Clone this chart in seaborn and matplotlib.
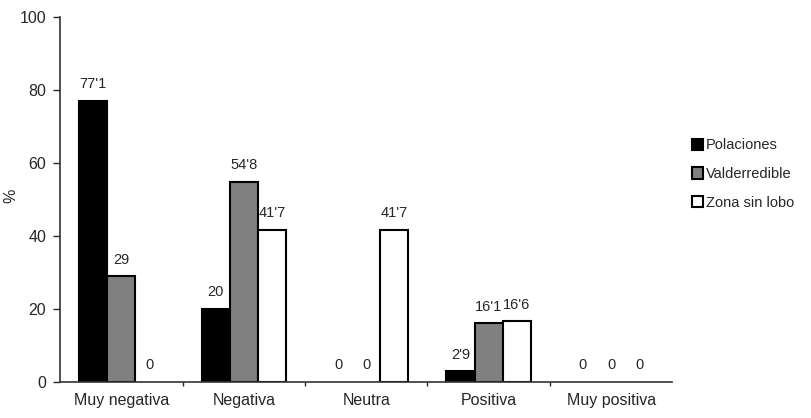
import matplotlib
matplotlib.use("Agg")
import matplotlib.pyplot as plt
import seaborn as sns
import pandas as pd
from matplotlib.ticker import FixedLocator

categories = ["Muy negativa", "Negativa", "Neutra", "Positiva", "Muy positiva"]
polaciones = [77.1, 20.0, 0.0, 2.9, 0.0]
valderredible = [29.0, 54.8, 0.0, 16.1, 0.0]
zona_sin_lobo = [0.0, 41.7, 41.7, 16.6, 0.0]
series_names = ["Polaciones", "Valderredible", "Zona sin lobo"]
series_colors = ["#000000", "#808080", "#ffffff"]

rows = []
for name, vals in zip(series_names, [polaciones, valderredible, zona_sin_lobo]):
    for cat, v in zip(categories, vals):
        rows.append({"categoria": cat, "serie": name, "valor": v})
df = pd.DataFrame(rows)

sns.set_style("white")
plt.rcParams["font.family"] = ["Liberation Sans", "DejaVu Sans"]

fig = plt.figure(figsize=(8.12, 4.18), dpi=100)
ax = fig.add_axes([0.074, 0.086, 0.754, 0.873])

sns.barplot(data=df, x="categoria", y="valor", hue="serie", order=categories,
            hue_order=series_names, palette=series_colors, width=0.69,
            edgecolor="black", linewidth=1.5, errorbar=None, ax=ax, legend=True)


def fmt(v):
    s = f"{v:.1f}".rstrip("0").rstrip(".")
    return s.replace(".", "'")


for container, vals in zip(ax.containers, [polaciones, valderredible, zona_sin_lobo]):
    for patch, v in zip(container, vals):
        if v == 0:
            patch.set_linewidth(0)
    ax.bar_label(container, labels=[fmt(v) for v in vals], padding=7, fontsize=10.5)

ax.set_ylim(0, 100)
ax.set_xlim(-0.5, 4.5)
ax.set_yticks([0, 20, 40, 60, 80, 100])
ax.tick_params(axis="y", direction="out", length=5, width=1, labelsize=11.5, left=True, pad=5)
ax.tick_params(axis="x", which="major", length=0, labelsize=11.5, pad=8)
ax.xaxis.set_minor_locator(FixedLocator([0.5, 1.5, 2.5, 3.5]))
ax.tick_params(axis="x", which="minor", direction="out", length=3, width=1, bottom=True)
ax.set_xlabel("")
ax.set_ylabel("%", fontsize=11.5)
ax.yaxis.set_label_coords(-0.068, 0.51)

for side in ["top", "right"]:
    ax.spines[side].set_visible(False)
for side in ["left", "bottom"]:
    ax.spines[side].set_color("#333333")
    ax.spines[side].set_linewidth(1.2)

leg = ax.legend(loc="center left", bbox_to_anchor=(1.01, 0.57), frameon=False,
                fontsize=10.5, handlelength=0.8, handleheight=0.8, handletextpad=0.2,
                labelspacing=1.0)
for h in leg.legend_handles:
    h.set_edgecolor("black")
    h.set_linewidth(1.5)

fig.savefig("out.png", dpi=100)
